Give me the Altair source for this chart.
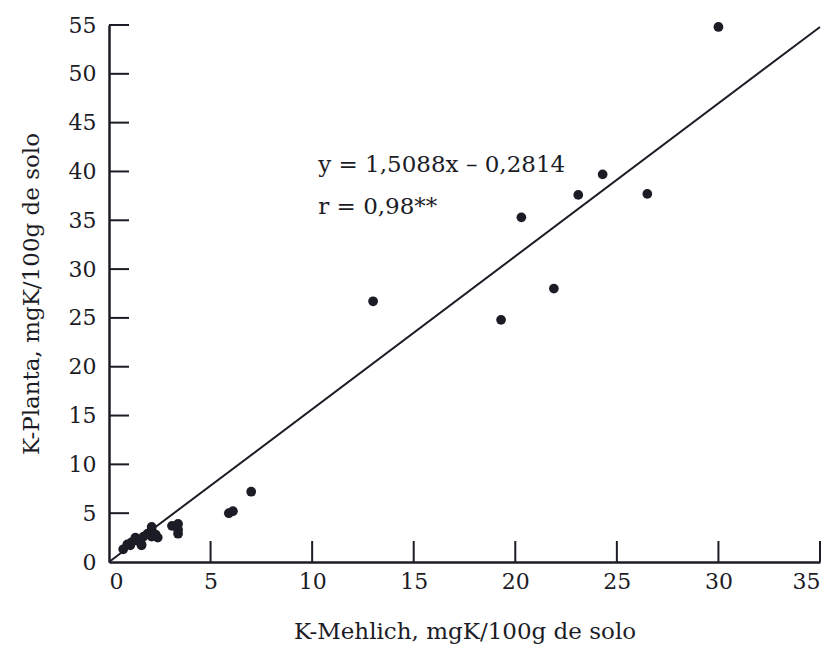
import altair as alt
import pandas as pd

# Scatter data (K-Mehlich vs K-Planta)
k_mehlich = [0.7, 0.9, 1.1, 1.3, 1.4, 1.6, 1.7, 1.9, 2.1, 2.1, 2.1, 2.3, 2.4, 1.6, 1.05,
             3.1, 3.4, 3.4, 3.4, 5.9, 6.1, 7.0, 13.0, 19.3, 20.3, 21.9, 23.1, 24.3, 26.5, 30.0]
k_planta = [1.3, 1.8, 2.0, 2.5, 2.2, 1.8, 2.6, 2.9, 3.3, 3.6, 2.6, 2.8, 2.5, 1.7, 1.7,
            3.7, 3.9, 3.3, 2.9, 5.0, 5.2, 7.2, 26.7, 24.8, 35.3, 28.0, 37.6, 39.7, 37.7, 54.8]

# Fitted line endpoints as drawn
line_x = [0, 35]
line_y = [0, 54.8]

# Axis ticks
x_ticks = [0, 5, 10, 15, 20, 25, 30, 35]
y_ticks = [0, 5, 10, 15, 20, 25, 30, 35, 40, 45, 50, 55]

# Annotation
ann_text = ["y = 1,5088x – 0,2814", "r = 0,98**"]
ann_x = [10.3, 10.3]
ann_y = [40.7, 36.4]

W, H = 711, 537
INK = "#1c1c26"
FONT = "DejaVu Serif"

pts = pd.DataFrame({"x": k_mehlich, "y": k_planta})
ln = pd.DataFrame({"x": line_x, "y": line_y})
xt = pd.DataFrame({"x": x_ticks[1:]})
yt = pd.DataFrame({"y": y_ticks[1:]})
ann = pd.DataFrame({"x": ann_x, "y": ann_y, "t": ann_text})

xscale = alt.Scale(domain=[0, 35], nice=False, zero=False)
yscale = alt.Scale(domain=[0, 55], nice=False, zero=False)

xaxis = alt.Axis(values=x_ticks, ticks=False, grid=False, title="K-Mehlich, mgK/100g de solo",
                 labelPadding=9, titlePadding=28)
yaxis = alt.Axis(values=y_ticks, ticks=False, grid=False, title="K-Planta, mgK/100g de solo",
                 labelPadding=13, titlePadding=25)

points = alt.Chart(pts).mark_circle(size=95, color=INK, opacity=1).encode(
    x=alt.X("x:Q", scale=xscale, axis=xaxis),
    y=alt.Y("y:Q", scale=yscale, axis=yaxis),
)

line = alt.Chart(ln).mark_line(color=INK, strokeWidth=2).encode(
    x=alt.X("x:Q", scale=xscale, axis=xaxis),
    y=alt.Y("y:Q", scale=yscale, axis=yaxis),
)

xtick_rules = alt.Chart(xt).mark_rule(color=INK, strokeWidth=2).encode(
    x=alt.X("x:Q", scale=xscale, axis=xaxis),
    y=alt.value(H),
    y2=alt.value(H - 21),
)

ytick_rules = alt.Chart(yt).mark_rule(color=INK, strokeWidth=2).encode(
    y=alt.Y("y:Q", scale=yscale, axis=yaxis),
    x=alt.value(0),
    x2=alt.value(20),
)

text = alt.Chart(ann).mark_text(align="left", baseline="middle", font=FONT, fontSize=23,
                                color=INK).encode(
    x=alt.X("x:Q", scale=xscale, axis=xaxis),
    y=alt.Y("y:Q", scale=yscale, axis=yaxis),
    text="t:N",
)

chart = alt.layer(line, xtick_rules, ytick_rules, points, text).properties(
    width=W, height=H,
    autosize=alt.AutoSizeParams(type="none"),
    padding={"left": 109, "top": 25, "right": 20, "bottom": 90},
    background="white",
).configure_view(stroke=None).configure_axis(
    domainColor=INK, domainWidth=2.5, labelColor=INK, titleColor=INK,
    labelFont=FONT, titleFont=FONT, labelFontSize=22, titleFontSize=23,
    titleFontWeight="normal",
)

chart.save("out.html", embed_options={"renderer": "svg", "actions": False})
